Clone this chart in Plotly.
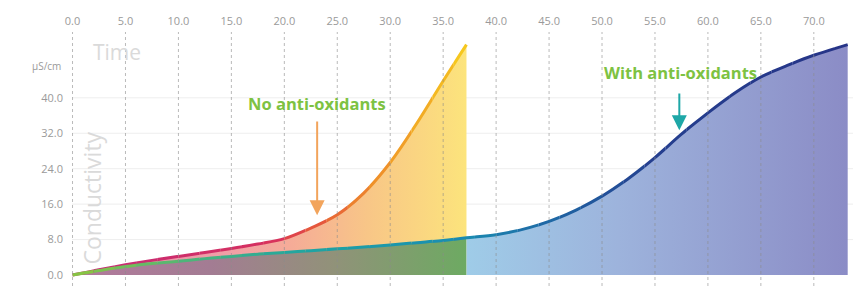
import plotly.graph_objects as go
from plotly.colors import sample_colorscale

# ---------------- data ----------------
time_no = [0, 2.5, 5, 7.5, 10, 12.5, 15, 17.5, 20, 22.5, 25, 27.5, 30, 32.5, 35, 37.2]
cond_no = [0, 1.2, 2.3, 3.3, 4.2, 5.1, 6.0, 7.0, 8.2, 10.6, 13.6, 18.5, 25.4, 34.2, 43.8, 52.0]

time_with = [0, 2.5, 5, 7.5, 10, 12.5, 15, 17.5, 20, 22.5, 25, 27.5, 30, 32.5, 35, 37.2,
             40, 42.5, 45, 47.5, 50, 52.5, 55, 57.5, 60, 62.5, 65, 67.5, 70, 73.2]
cond_with = [0, 1.0, 1.9, 2.6, 3.1, 3.7, 4.2, 4.7, 5.1, 5.5, 5.9, 6.3, 6.8, 7.3, 7.8, 8.4,
             9.1, 10.3, 12.1, 14.6, 17.8, 21.8, 26.5, 31.8, 36.6, 41.0, 44.7, 47.3, 49.6, 52.0]

x_ticks = [0, 5, 10, 15, 20, 25, 30, 35, 40, 45, 50, 55, 60, 65, 70]
x_tick_labels = ["0.0", "5.0", "10.0", "15.0", "20.0", "25.0", "30.0", "35.0",
                 "40.0", "45.0", "50.0", "55.0", "60.0", "65.0", "70.0"]
y_ticks = [0, 8, 16, 24, 32, 40]
y_tick_labels = ["0.0", "8.0", "16.0", "24.0", "32.0", "40.0"]

label_no = "No anti-oxidants"
label_with = "With anti-oxidants"

# ---------------- styles ----------------
FONT = "Open Sans, sans-serif"
TICK_COLOR = "#9a9a9a"
no_fill_scale = [[0, "#e389ad"], [0.4, "#f19fa6"], [0.55, "#f5ab98"],
                 [0.75, "#f8c687"], [1, "#fce47c"]]
with_fill_scale_1 = [[0, "#b27a9c"], [0.35, "#a37c93"], [0.65, "#92917a"], [1, "#6daa62"]]
with_fill_scale_2 = [[0, "#9fcce8"], [0.4, "#9db3dc"], [1, "#8b8cc6"]]
no_line_scale = [[0, "#c42a78"], [0.5, "#d6305f"], [0.6, "#e4503f"],
                 [0.75, "#ee8a2b"], [1, "#f6c81e"]]
with_line_scale = [[0, "#8dc63f"], [0.15, "#4db57a"], [0.3, "#1fa5a2"],
                   [0.5, "#1a8cb2"], [0.62, "#1f66a4"], [0.75, "#253f8f"], [1, "#263487"]]

XMIN, XMAX = -0.05, 73.7
YMIN, YMAX = -2.48, 54.85

fig = go.Figure()
layout_axes = {}
axis_counter = [1]


def dom(v):
    return min(1.0, max(0.0, (v - XMIN) / (XMAX - XMIN)))


def clip_axis(a, b):
    """An invisible x axis covering [a, b] so traces are clipped to that strip."""
    axis_counter[0] += 1
    k = axis_counter[0]
    layout_axes["xaxis%d" % k] = dict(domain=[dom(a), dom(b)], range=[a, b],
                                      visible=False, anchor="y", fixedrange=True)
    return "x%d" % k


t_end_no = time_no[-1]
t_end_with = time_with[-1]

# ---- fills ----
fig.add_trace(go.Scatter(x=time_no, y=cond_no, mode="lines",
                         line=dict(width=0, shape="spline"), fill="tozeroy",
                         fillgradient=dict(type="horizontal", colorscale=no_fill_scale,
                                           start=0, stop=t_end_no),
                         hoverinfo="skip", showlegend=False))
xa = clip_axis(XMIN, t_end_no)
fig.add_trace(go.Scatter(x=time_with, y=cond_with, mode="lines", xaxis=xa, yaxis="y",
                         line=dict(width=0, shape="spline"), fill="tozeroy",
                         fillgradient=dict(type="horizontal", colorscale=with_fill_scale_1,
                                           start=0, stop=t_end_no),
                         hoverinfo="skip", showlegend=False))
xa = clip_axis(t_end_no, XMAX)
fig.add_trace(go.Scatter(x=time_with, y=cond_with, mode="lines", xaxis=xa, yaxis="y",
                         line=dict(width=0, shape="spline"), fill="tozeroy",
                         fillgradient=dict(type="horizontal", colorscale=with_fill_scale_2,
                                           start=t_end_no, stop=t_end_with),
                         hoverinfo="skip", showlegend=False))

# ---- gradient lines: full smooth curve drawn in narrow clipped strips ----
step = 2.0
edges = [XMIN]
v = step
while v < XMAX - 0.5:
    edges.append(v)
    v += step
edges.append(XMAX)

for a, b in zip(edges[:-1], edges[1:]):
    xa = clip_axis(a, b)
    mid = (a + b) / 2
    if a < t_end_no:
        c = sample_colorscale(no_line_scale, [min(1, max(0, mid / t_end_no))])[0]
        fig.add_trace(go.Scatter(x=time_no, y=cond_no, mode="lines", xaxis=xa, yaxis="y",
                                 line=dict(color=c, width=3, shape="spline"),
                                 hoverinfo="skip", showlegend=False))
    c = sample_colorscale(with_line_scale, [min(1, max(0, mid / t_end_with))])[0]
    fig.add_trace(go.Scatter(x=time_with, y=cond_with, mode="lines", xaxis=xa, yaxis="y",
                             line=dict(color=c, width=3, shape="spline"),
                             hoverinfo="skip", showlegend=False))

# dotted vertical guides over the fills
for t in x_ticks:
    fig.add_shape(type="line", xref="x", yref="paper", x0=t, x1=t, y0=0, y1=1,
                  line=dict(color="rgba(140,140,140,0.6)", width=1, dash="dot"),
                  layer="above")
# faint horizontal guides
for yv in y_ticks[1:]:
    fig.add_shape(type="line", xref="paper", yref="y", x0=0, x1=1, y0=yv, y1=yv,
                  line=dict(color="#eeeeee", width=1), layer="below")

# ---- annotations ----
fig.add_annotation(x=23.1, y=38.8, text="<b>" + label_no + "</b>", showarrow=False,
                   font=dict(family=FONT, size=16.5, color="#7dc242"))
fig.add_annotation(x=23.1, y=13.5, ax=23.1, ay=35.0, axref="x", ayref="y",
                   text="", showarrow=True, arrowhead=2, arrowsize=1.5, arrowwidth=2,
                   arrowcolor="#f2a45c")
fig.add_annotation(x=57.4, y=45.6, text="<b>" + label_with + "</b>", showarrow=False,
                   font=dict(family=FONT, size=16.5, color="#7dc242"))
fig.add_annotation(x=57.3, y=32.7, ax=57.3, ay=41.3, axref="x", ayref="y",
                   text="", showarrow=True, arrowhead=2, arrowsize=1.5, arrowwidth=2,
                   arrowcolor="#1ea7a7")
fig.add_annotation(x=4.2, y=50.3, text="Time", showarrow=False,
                   font=dict(family=FONT, size=21, color="#dadada"))
fig.add_annotation(x=1.8, y=17.4, text="Conductivity", textangle=-90, showarrow=False,
                   font=dict(family=FONT, size=23, color="#dadada"))
fig.add_annotation(xref="paper", x=-0.011, y=47.2, xanchor="right", text="µS/cm",
                   showarrow=False, font=dict(family=FONT, size=10, color=TICK_COLOR))

fig.update_layout(
    width=853, height=286,
    margin=dict(l=72, r=0, t=32, b=0, autoexpand=False),
    paper_bgcolor="white", plot_bgcolor="rgba(0,0,0,0)",
    showlegend=False,
    font=dict(family=FONT, color=TICK_COLOR, size=11),
    xaxis=dict(side="top", range=[XMIN, XMAX], domain=[0, 1], tickvals=x_ticks,
               ticktext=x_tick_labels, showgrid=False, zeroline=False, showline=False,
               ticks="", automargin=False, ticklabelstandoff=4, fixedrange=True,
               tickfont=dict(size=11, color=TICK_COLOR)),
    yaxis=dict(range=[YMIN, YMAX], tickvals=y_ticks, ticktext=y_tick_labels,
               showgrid=False, zeroline=False, showline=False, ticks="", anchor="x",
               automargin=False, ticklabelstandoff=8, fixedrange=True,
               tickfont=dict(size=11, color=TICK_COLOR)),
    **layout_axes,
)

fig.write_html("out.html", config={"displayModeBar": False},
               post_script="document.body.style.margin='0';document.body.style.padding='0';")
